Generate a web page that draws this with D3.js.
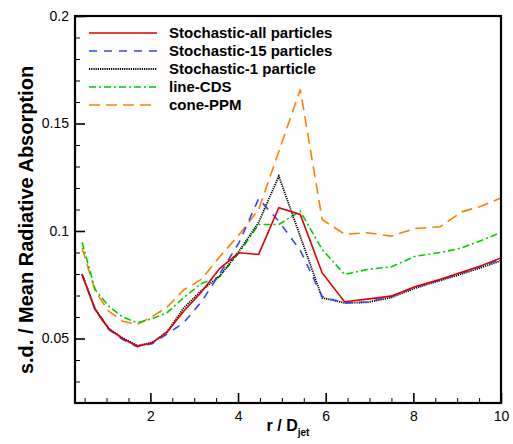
<!DOCTYPE html>
<html>
<head>
<meta charset="utf-8">
<script src="https://cdn.jsdelivr.net/npm/d3@7"></script>
<style>
  body { margin: 0; background: #fff; }
  svg { font-family: "Liberation Sans", Arial, sans-serif; }
</style>
</head>
<body>
<svg id="chart" width="513" height="444"></svg>
<script>
// radial positions r / D_jet
const rPos = [0.44, 0.74, 1.05, 1.37, 1.70, 2.04, 2.38, 2.76, 3.16, 3.58, 4.02, 4.47,
              4.93, 5.42, 5.92, 6.43, 6.95, 7.49, 8.05, 8.62, 9.10, 9.55, 10.0];

const stochAll = [0.0798, 0.0635, 0.0545, 0.0500, 0.0463, 0.0480, 0.0530, 0.0627, 0.0715, 0.0825, 0.0899, 0.0891,
                  0.1108, 0.1077, 0.0805, 0.0671, 0.0683, 0.0697, 0.0742, 0.0775, 0.0808, 0.0838, 0.0875];
const stoch15 = [0.0798, 0.0632, 0.0542, 0.0495, 0.0462, 0.0476, 0.0520, 0.0573, 0.0670, 0.0800, 0.0945, 0.1150,
                 0.1045, 0.0910, 0.0695, 0.0665, 0.0670, 0.0695, 0.0738, 0.0772, 0.0805, 0.0835, 0.0870];
const stoch1 = [0.0800, 0.0637, 0.0546, 0.0502, 0.0467, 0.0481, 0.0530, 0.0642, 0.0722, 0.0790, 0.0905, 0.1040,
                0.1255, 0.0975, 0.0689, 0.0666, 0.0668, 0.0690, 0.0735, 0.0770, 0.0800, 0.0830, 0.0862];
const lineCDS = [0.0948, 0.0728, 0.0650, 0.0600, 0.0573, 0.0592, 0.0620, 0.0690, 0.0755, 0.0788, 0.0898, 0.1030,
                 0.1030, 0.1092, 0.0914, 0.0798, 0.0821, 0.0833, 0.0883, 0.0900, 0.0921, 0.0956, 0.0993];
const conePPM = [0.0922, 0.0720, 0.0627, 0.0580, 0.0565, 0.0602, 0.0645, 0.0726, 0.0775, 0.0880, 0.0982, 0.1100,
                 0.1370, 0.1658, 0.1053, 0.0985, 0.0992, 0.0976, 0.1012, 0.1020, 0.1089, 0.1115, 0.1154];

const seriesNames = ["Stochastic-all particles", "Stochastic-15 particles", "Stochastic-1 particle", "line-CDS", "cone-PPM"];

const xMajor = [2, 4, 6, 8, 10];
const yMajor = [0.05, 0.1, 0.15, 0.2];

const series = [
    { name: seriesNames[0], values: stochAll, color: "#dd0000", dash: null, width: 1.6 },
    { name: seriesNames[1], values: stoch15, color: "#3344ff", dash: "8,7", width: 1.6 },
    { name: seriesNames[2], values: stoch1, color: "#000000", dash: "1.2,1", width: 1.8 },
    { name: seriesNames[3], values: lineCDS, color: "#00cc00", dash: "7,3,2,3", width: 1.6 },
    { name: seriesNames[4], values: conePPM, color: "#ff8000", dash: "11,6", width: 1.6 }
];

const margin = { top: 16, right: 12, bottom: 41, left: 75 };
const width = 513 - margin.left - margin.right;
const height = 444 - margin.top - margin.bottom;

const svg = d3.select("#chart");
const g = svg.append("g").attr("transform", `translate(${margin.left},${margin.top})`);

const x = d3.scaleLinear().domain([0.28, 10]).range([0, width]);
const y = d3.scaleLinear().domain([0.02, 0.2]).range([height, 0]);

// lines
const line = d3.line()
    .x(d => x(d[0]))
    .y(d => y(d[1]));

series.slice().reverse().forEach(s => {
    g.append("path")
        .datum(rPos.map((r, i) => [r, s.values[i]]))
        .attr("fill", "none")
        .attr("stroke", s.color)
        .attr("stroke-width", s.width)
        .attr("stroke-dasharray", s.dash)
        .attr("d", line);
});

// minor ticks
const xMinor = d3.range(0.5, 10.01, 0.5).filter(v => xMajor.indexOf(v) < 0);
const yMinor = d3.range(3, 20).map(v => v / 100).filter(v => yMajor.every(m => Math.abs(m - v) > 1e-6));

g.append("g")
    .attr("transform", `translate(0,${height})`)
    .call(d3.axisBottom(x).tickValues(xMinor).tickSize(-5).tickFormat(""))
    .call(a => a.select(".domain").remove());
g.append("g")
    .call(d3.axisLeft(y).tickValues(yMinor).tickSize(-5).tickFormat(""))
    .call(a => a.select(".domain").remove());

// major ticks
const xAxis = g.append("g")
    .attr("transform", `translate(0,${height})`)
    .call(d3.axisBottom(x).tickValues(xMajor).tickSize(-10).tickPadding(8).tickFormat(d => String(d)));
const yAxis = g.append("g")
    .call(d3.axisLeft(y).tickValues(yMajor).tickSize(-10).tickPadding(6).tickFormat(d => String(d)));

[xAxis, yAxis].forEach(a => {
    a.select(".domain").remove();
    a.selectAll("text").attr("font-size", 14).attr("fill", "#000")
        .attr("font-family", "Liberation Sans, Arial, sans-serif");
    a.selectAll("line").attr("stroke-width", 1.6);
});
g.selectAll(".tick line").attr("stroke", "#000");

// frame
g.append("rect")
    .attr("width", width)
    .attr("height", height)
    .attr("fill", "none")
    .attr("stroke", "#000")
    .attr("stroke-width", 2.2);

// axis titles
const xt = svg.append("text")
    .attr("x", margin.left + width / 2)
    .attr("y", 431)
    .attr("text-anchor", "middle")
    .attr("font-size", 16)
    .attr("font-weight", "bold");
xt.append("tspan").text("r / D");
xt.append("tspan").attr("font-size", 10).attr("dy", 5).text("jet");

svg.append("text")
    .attr("transform", "translate(33,220) rotate(-90)")
    .attr("text-anchor", "middle")
    .attr("font-size", 20)
    .attr("font-weight", "bold")
    .text("s.d. / Mean Radiative Absorption");

// legend
const legend = svg.append("g").attr("transform", "translate(89,33)");
series.forEach((s, i) => {
    const row = legend.append("g").attr("transform", `translate(0,${i * 18})`);
    row.append("line")
        .attr("x1", 0).attr("x2", 68)
        .attr("stroke", s.color)
        .attr("stroke-width", s.width)
        .attr("stroke-dasharray", s.dash);
    row.append("text")
        .attr("x", 80)
        .attr("dy", "0.35em")
        .attr("font-size", 15)
        .attr("font-weight", "bold")
        .text(s.name);
});
</script>
</body>
</html>
